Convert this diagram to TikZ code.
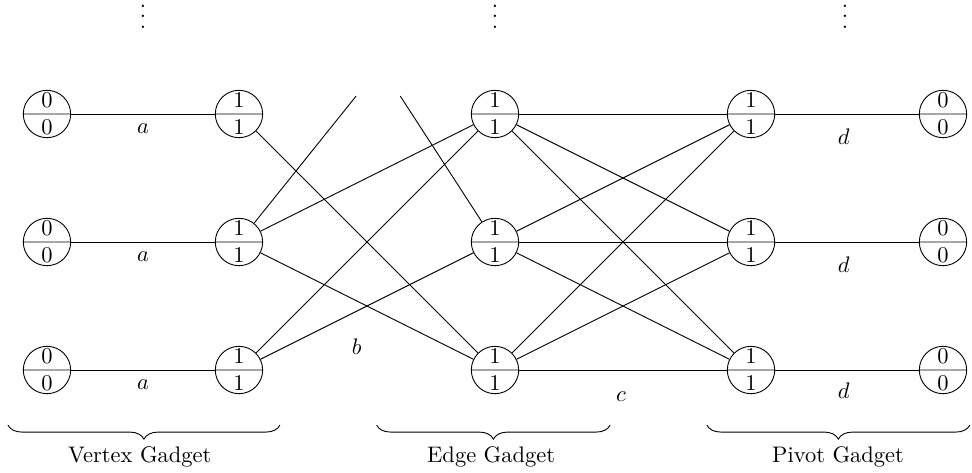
\documentclass[tikz,border=0pt]{standalone}
\usetikzlibrary{decorations.pathreplacing}
\newcommand{\mydots}{\vbox{\baselineskip=4.7pt\lineskiplimit=0pt\hbox{.}\hbox{.}\hbox{.}}}
\tikzset{
  sc/.style 2 args={circle, draw, minimum size=0.74cm, inner sep=0pt,
    path picture={
      \draw[gray!70, line width=0.5pt] (path picture bounding box.west) -- (path picture bounding box.east);
      \node[anchor=base, inner sep=0pt] at ([yshift=0.10cm]path picture bounding box.center) {#1};
      \node[anchor=base, inner sep=0pt] at ([yshift=-0.32cm]path picture bounding box.center) {#2};
    }},
  lbl/.style={inner sep=0pt},
  gbrace/.style={decorate, decoration={brace, mirror, amplitude=0.22cm}},
  gtext/.style={anchor=base, inner sep=0pt},
  dotsnode/.style={anchor=base, inner sep=0pt}
}
\begin{document}
\begin{tikzpicture}
\useasboundingbox (-0.734,-5.594) rectangle (14.453,1.781);
% nodes
\foreach \r/\y in {1/0, 2/-2, 3/-4} {
  \node[sc={0}{0}] (L\r) at (0,\y) {};
  \node[sc={1}{1}] (V\r) at (3,\y) {};
  \node[sc={1}{1}] (E\r) at (7,\y) {};
  \node[sc={1}{1}] (P\r) at (11,\y) {};
  \node[sc={0}{0}] (R\r) at (14,\y) {};
}
% dots
\node[dotsnode] (dots1) at (1.5,1.34) {\mydots};
\node[dotsnode] (dots2) at (7,1.34) {\mydots};
\node[dotsnode] (dots3) at (12.47,1.34) {\mydots};
% faded ends
\coordinate (up1) at (4.83,0.28);
\coordinate (up2) at (5.52,0.28);
% edges
\foreach \r in {1,2,3} {
  \draw (L\r) -- (V\r);
  \draw (P\r) -- (R\r);
  \foreach \s in {1,2,3} { \draw (E\r) -- (P\s); }
}
\draw (V1) -- (E3);
\draw (V2) -- (E1);
\draw (V2) -- (E3);
\draw (V2) -- (up1);
\draw (V3) -- (E1);
\draw (V3) -- (E2);
\draw (up2) -- (E2);
% labels
\node[lbl] (a1) at (1.5,-0.23) {$a$};
\node[lbl] (a2) at (1.5,-2.23) {$a$};
\node[lbl] (a3) at (1.5,-4.23) {$a$};
\node[lbl] (d1) at (12.45,-0.35) {$d$};
\node[lbl] (d2) at (12.45,-2.35) {$d$};
\node[lbl] (d3) at (12.45,-4.33) {$d$};
\node[lbl] (lb) at (4.84,-3.64) {$b$};
\node[lbl] (lc) at (8.97,-4.41) {$c$};
% braces
\draw[gbrace] (-0.61,-4.86) -- (3.64,-4.86);
\draw[gbrace] (5.15,-4.86) -- (8.80,-4.86);
\draw[gbrace] (10.31,-4.86) -- (14.42,-4.86);
\node[gtext] (t1) at (1.45,-5.45) {Vertex Gadget};
\node[gtext] (t2) at (6.94,-5.45) {Edge Gadget};
\node[gtext] (t3) at (12.36,-5.45) {Pivot Gadget};
\end{tikzpicture}
\end{document}
